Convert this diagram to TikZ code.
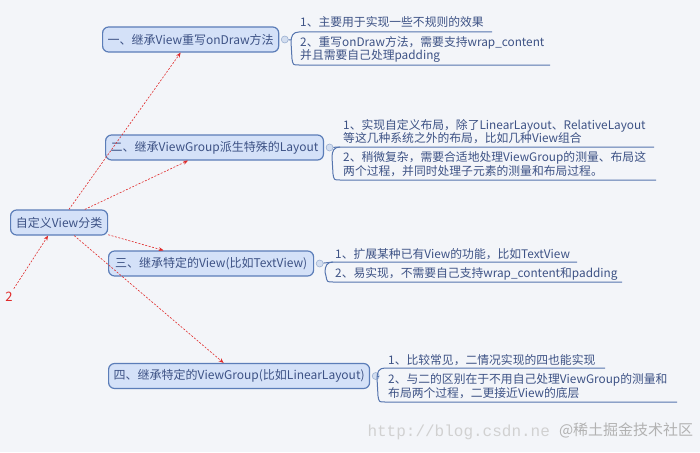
\documentclass[tikz,border=0pt]{standalone}
\usepackage{fontspec}
\setmainfont{Noto Sans CJK SC}
\newfontfamily\urlfont{Liberation Mono}
\usetikzlibrary{arrows.meta,shapes}
\definecolor{bgcol}{HTML}{F3F5F9}
\definecolor{topicfill}{HTML}{D4E1F8}
\definecolor{topicline}{HTML}{5B7DB8}
\definecolor{inkcol}{HTML}{3D5285}
\definecolor{braceline}{HTML}{5675AE}
\definecolor{knobfill}{HTML}{D3DEF0}
\definecolor{knobline}{HTML}{9DB1D2}
\definecolor{arrowred}{HTML}{E02B2B}
\tikzstyle{topic}=[rectangle,rounded corners=6pt,draw=topicline,fill=topicfill,line width=1.2pt,minimum height=25pt,inner xsep=5pt,anchor=west,text=inkcol,font=\fontsize{12}{13}\selectfont]
\tikzstyle{knob}=[circle,draw=knobline,fill=knobfill,minimum size=7pt,inner sep=0pt,line width=0.6pt]
\tikzstyle{note}=[anchor=west,align=left,inner sep=0pt,text=inkcol,font=\fontsize{11.8}{13.5}\selectfont]
\tikzstyle{brace}=[draw=braceline,line width=1pt]
\tikzstyle{edge}=[draw,arrowred,line width=0.6pt,dash pattern=on 2pt off 1.5pt,-{Stealth[length=5pt,width=4pt]}]

\begin{document}
\begin{tikzpicture}[x=1pt,y=-1pt]

    \useasboundingbox[fill=bgcol] (0,0) rectangle (700,452);

    \foreach \x/\y/\name/\w/\txt in {10/222.5/root/97/{自定义View分类},
        102/39.5/n1/176/{一、继承View重写onDraw方法},
        105/147.5/n2/217/{二、继承ViewGroup派生特殊的Layout},
        108/263.5/n3/205/{三、继承特定的View(比如TextView)},
        108/376/n4/259/{四、继承特定的ViewGroup(比如LinearLayout)}}
        \node[topic, minimum width=\w pt] (\name) at (\x,\y) {\txt};

    \foreach \name/\k in {n1/k1, n2/k2, n3/k3, n4/k4}
        \node[knob] (\k) at ([xshift=5.5pt]\name.east) {};

    % brackets holding the notes
    \foreach \k/\xl/\yt/\xt/\yb/\xb/\jx/\jy in {k1/291/32/492/65/550/291/40,
        k2/332/147/654/180/656/340/147,
        k3/325/262/577/282/622/333/262,
        k4/377/368/605/402/677/377/376}
    {
        \path[brace] (\xt,\yt) -- (\xl+8,\yt) .. controls (\xl+2,\yt) and (\xl,\yt+4) .. (\xl,\yt+10)
            -- (\xl+1,\yb-6) .. controls (\xl+2,\yb) .. (\xl+8,\yb) -- (\xb,\yb);
        \coordinate (\k j) at (\jx,\jy);
        \path[brace] (\k) -- (\k j);
    }

    \foreach \x/\y/\txt [count=\i] in {300/22/{1、主要用于实现一些不规则的效果},
        300/49.5/{2、重写onDraw方法，需要支持wrap\_content\\并且需要自己处理padding},
        343/131.5/{1、实现自定义布局，除了LinearLayout、RelativeLayout\\等这几种系统之外的布局，比如几种View组合},
        343/164/{2、稍微复杂，需要合适地处理ViewGroup的测量、布局这\\两个过程，并同时处理子元素的测量和布局过程。},
        335/254/{1、扩展某种已有View的功能，比如TextView},
        335/274/{2、易实现，不需要自己支持wrap\_content和padding},
        388/360/{1、比较常见，二情况实现的四也能实现},
        388/386/{2、与二的区别在于不用自己处理ViewGroup的测量和\\布局两个过程，二更接近View的底层}}
        \node[note] (t\i) at (\x,\y) {\txt};

    \node[text=arrowred, font=\fontsize{13}{13}\selectfont] (two) at (9,297) {2};

    \foreach \source/\dest/\dx in {root.53/n1.south/-10, root.27/n2.south/-26.5,
        root.-14/n3.north/-47.5, root.-41/n4.north/-15.5}
        \path[edge] (\source) -- ([xshift=\dx pt]\dest);
    \path[edge] (two.60) -- (root.-130);

    \node[anchor=west, text=black!18, font=\urlfont\fontsize{16}{16}\selectfont] (url) at (364,432) {http://blog.csdn.ne};
    \node[anchor=west, text=black!30, font=\fontsize{15}{15}\selectfont] (mark) at (555.5,430.5) {@稀土掘金技术社区};

\end{tikzpicture}
\end{document}
